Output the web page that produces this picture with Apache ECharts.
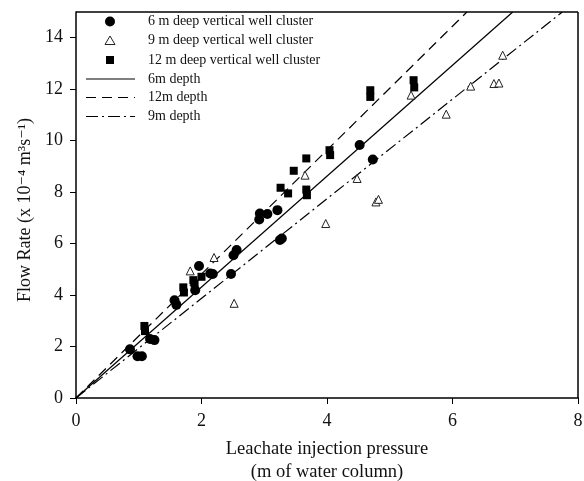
<!DOCTYPE html>
<html><head><meta charset="utf-8">
<script src="https://cdn.jsdelivr.net/npm/echarts@6/dist/echarts.min.js"></script>
<style>html,body{margin:0;padding:0;background:#fff}#c{width:584px;height:481px}</style>
</head><body><div id="c"></div>
<script>
var FONT = '"Liberation Serif","DejaVu Serif",serif';
var xTicks = [0,2,4,6,8];
var yTicks = [0,2,4,6,8,10,12,14];
var well6 = [[0.86,1.89],[0.98,1.62],[1.05,1.62],[1.18,2.29],[1.25,2.25],[1.57,3.8],[1.6,3.62],[1.96,5.13],[1.9,4.19],[2.14,4.84],[2.18,4.82],[2.47,4.82],[2.51,5.55],[2.56,5.75],[2.92,6.94],[2.93,7.17],[3.05,7.15],[3.21,7.3],[3.25,6.14],[3.28,6.2],[4.52,9.83],[4.73,9.27]];
var well9 = [[1.82,4.94],[2.2,5.46],[2.52,3.68],[3.65,8.66],[3.98,6.78],[4.48,8.53],[4.78,7.62],[4.82,7.72],[5.34,11.77],[5.9,11.03],[6.29,12.12],[6.66,12.22],[6.74,12.24],[6.8,13.32]];
var well12 = [[1.09,2.8],[1.1,2.6],[1.71,4.3],[1.72,4.1],[1.87,4.58],[1.89,4.45],[2.0,4.71],[3.26,8.17],[3.38,7.95],[3.47,8.83],[3.67,9.31],[3.67,8.1],[3.68,7.88],[4.04,9.63],[4.05,9.44],[4.69,11.96],[4.69,11.7],[5.38,12.35],[5.39,12.07]];
var fit6 = [[0,0],[6.96,15]];
var fit12 = [[0,0],[6.23,15]];
var fit9 = [[0,0],[7.75,15]];
var names = ['6 m deep vertical well cluster','9 m deep vertical well cluster','12 m deep vertical well cluster','6m depth','12m depth','9m depth'];

var DASH12 = [10,6];
var DASH9 = [12,4,2,4];

// legend drawn as graphic
var legRows = [21.5, 40.5, 60, 79, 97.5, 116.5];
var legend = [];
legend.push({type:'circle',shape:{cx:110,cy:legRows[0],r:5},style:{fill:'#000'}});
legend.push({type:'polygon',shape:{points:[[110,legRows[1]-4.5],[105,legRows[1]+4],[115,legRows[1]+4]]},style:{fill:'#fff',stroke:'#222',lineWidth:1}});
legend.push({type:'rect',shape:{x:106,y:legRows[2]-4,width:8,height:8},style:{fill:'#000'}});
legend.push({type:'line',shape:{x1:86,y1:legRows[3],x2:135,y2:legRows[3]},style:{stroke:'#000',lineWidth:1.2}});
legend.push({type:'line',shape:{x1:86,y1:legRows[4],x2:135,y2:legRows[4]},style:{stroke:'#000',lineWidth:1.2,lineDash:DASH12}});
legend.push({type:'line',shape:{x1:86,y1:legRows[5],x2:135,y2:legRows[5]},style:{stroke:'#000',lineWidth:1.2,lineDash:DASH9}});
for (var i=0;i<names.length;i++){
  legend.push({type:'text',x:148,y:legRows[i],style:{text:names[i],font:'14px '+FONT,fill:'#111',textVerticalAlign:'middle',verticalAlign:'middle'}});
}

var chart = echarts.init(document.getElementById('c'));
chart.setOption({
  animation:false,
  textStyle:{fontFamily:FONT},
  grid:{left:76,right:6,top:12,bottom:83,containLabel:false,outerBoundsMode:'none'},
  xAxis:{
    type:'value',min:0,max:8,interval:2,
    name:'Leachate injection pressure\n(m of water column)',
    nameLocation:'middle',nameGap:39.5,
    nameTextStyle:{fontFamily:FONT,fontSize:18.5,color:'#111',lineHeight:23},
    axisLine:{show:true,onZero:false,lineStyle:{color:'#000',width:1.5}},
    axisTick:{show:true,inside:false,length:6,lineStyle:{color:'#000'}},
    axisLabel:{fontFamily:FONT,fontSize:18,color:'#111',margin:14,
      formatter:function(v){return xTicks.indexOf(v)>=0?String(v):'';}},
    splitLine:{show:false}
  },
  yAxis:{
    type:'value',min:0,max:15,interval:2,
    name:'Flow Rate (x 10\u207B\u2074 m\u00B3s\u207B\u00B9)',
    nameLocation:'middle',nameGap:40,
    nameTextStyle:{fontFamily:FONT,fontSize:18,color:'#111',padding:[0,10,0,0]},
    axisLine:{show:true,onZero:false,lineStyle:{color:'#000',width:1.5}},
    axisTick:{show:true,inside:false,length:6,lineStyle:{color:'#000'}},
    axisLabel:{fontFamily:FONT,fontSize:18,color:'#111',margin:13,showMaxLabel:false,
      formatter:function(v){return yTicks.indexOf(v)>=0?String(v):'';}},
    splitLine:{show:false}
  },
  series:[
    {name:names[0],type:'scatter',data:well6,symbol:'circle',symbolSize:10,itemStyle:{color:'#000',opacity:1},z:5},
    {name:names[1],type:'scatter',data:well9,symbol:'triangle',symbolSize:8,itemStyle:{color:'#fff',borderColor:'#222',borderWidth:1,opacity:1},z:5},
    {name:names[2],type:'scatter',data:well12,symbol:'rect',symbolSize:8,itemStyle:{color:'#000',opacity:1},z:5},
    {name:names[3],type:'line',data:fit6,symbol:'none',lineStyle:{color:'#000',width:1.2,type:'solid'}},
    {name:names[4],type:'line',data:fit12,symbol:'none',lineStyle:{color:'#000',width:1.2,type:DASH12}},
    {name:names[5],type:'line',data:fit9,symbol:'none',lineStyle:{color:'#000',width:1.2,type:DASH9}}
  ],
  graphic:[
    {type:'line',shape:{x1:76,y1:12,x2:578,y2:12},style:{stroke:'#000',lineWidth:1.5},z:10},
    {type:'line',shape:{x1:578,y1:12,x2:578,y2:398},style:{stroke:'#000',lineWidth:1.5},z:10}
  ].concat(legend)
});
</script></body></html>
